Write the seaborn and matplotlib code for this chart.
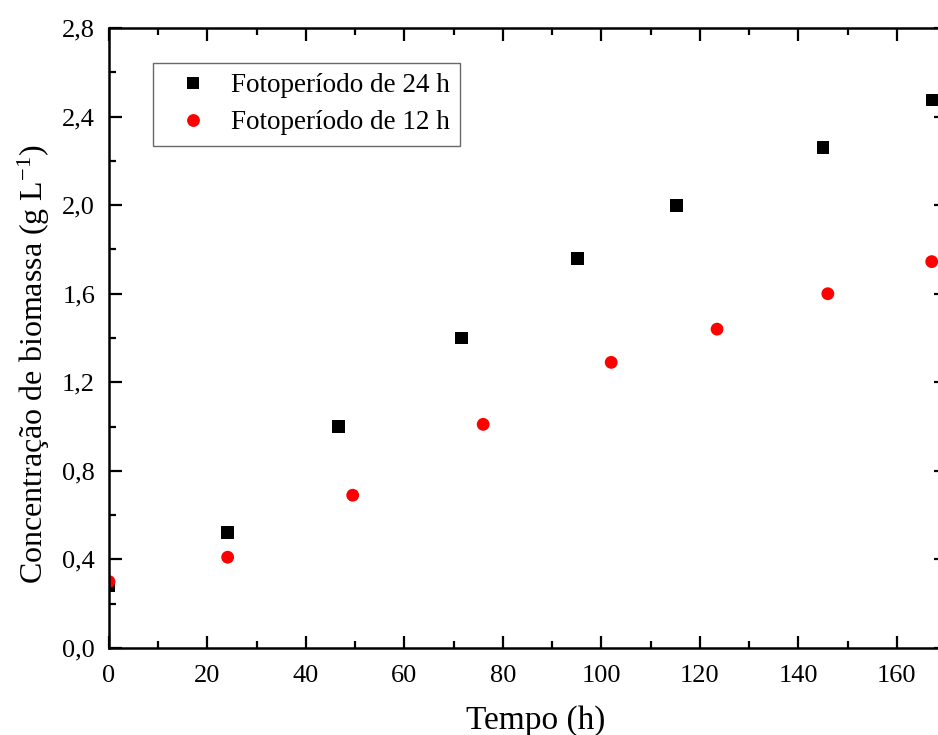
import pandas as pd
import matplotlib.pyplot as plt
import seaborn as sns

# ===== Dados =====
tempo_24h = [0, 24.1, 46.6, 71.6, 95.1, 115.2, 145.0, 167.3]
biomassa_24h = [0.28, 0.52, 1.00, 1.40, 1.76, 2.00, 2.26, 2.475]

tempo_12h = [0, 24.1, 49.5, 76.0, 102.0, 123.5, 146.0, 167.1]
biomassa_12h = [0.30, 0.41, 0.69, 1.01, 1.29, 1.44, 1.60, 1.745]

serie_24 = 'Fotoperíodo de 24 h'
serie_12 = 'Fotoperíodo de 12 h'

df = pd.concat([
    pd.DataFrame({'tempo': tempo_24h, 'biomassa': biomassa_24h, 'serie': serie_24}),
    pd.DataFrame({'tempo': tempo_12h, 'biomassa': biomassa_12h, 'serie': serie_12}),
], ignore_index=True)

# ===== Estilo =====
sns.set_style('ticks')
plt.rcParams['font.family'] = ['Liberation Serif', 'DejaVu Serif']
plt.rcParams['mathtext.fontset'] = 'custom'
plt.rcParams['mathtext.rm'] = 'Liberation Serif'
plt.rcParams['mathtext.it'] = 'Liberation Serif:italic'
for k in ['text.color', 'axes.labelcolor', 'xtick.color', 'ytick.color']:
    plt.rcParams[k] = 'black'

fig = plt.figure(figsize=(9.38, 7.35), dpi=100)
ax = fig.add_axes([109 / 938, 87 / 735, 837 / 938, 620 / 735])

sns.scatterplot(
    data=df, x='tempo', y='biomassa', hue='serie', style='serie',
    hue_order=[serie_24, serie_12], style_order=[serie_24, serie_12],
    palette={serie_24: 'black', serie_12: 'red'},
    markers={serie_24: 's', serie_12: 'o'},
    s=85, linewidth=0, ax=ax,
)

ax.set_xlim(0, 170)
ax.set_ylim(0, 2.8)
ax.set_xticks(range(0, 170, 20))
ax.set_xticks(range(10, 171, 20), minor=True)
yt = [i * 0.4 for i in range(8)]
ax.set_yticks(yt)
ax.set_yticklabels([f'{v:.1f}'.replace('.', ',') for v in yt])
ax.set_yticks([0.2 + i * 0.4 for i in range(7)], minor=True)

ax.tick_params(which='both', direction='in', top=True, right=True, width=1.6,
               labelsize=19)
ax.tick_params(which='major', length=9)
ax.tick_params(axis='y', which='major', pad=10)
ax.tick_params(axis='x', which='major', pad=12)
ax.tick_params(which='minor', length=5)
for sp in ax.spines.values():
    sp.set_linewidth(1.8)
    sp.set_color('black')

ax.set_xlabel('Tempo (h)', fontsize=24)
ax.set_ylabel('Concentração de biomassa (g L$^{-1}$)', fontsize=23)
ax.xaxis.set_label_coords(0.510, -0.092)
ax.yaxis.set_label_coords(-0.068, 0.458)

leg = ax.legend(loc='upper left', bbox_to_anchor=(153 / 938, 1 - 63 / 735),
                bbox_transform=fig.transFigure, borderaxespad=0,
                fontsize=19.5, frameon=True, fancybox=False, markerscale=1.0,
                handletextpad=0.3, borderpad=0.38, labelspacing=0.45,
                handlelength=2.2)
leg.get_frame().set_edgecolor('#444444')
leg.get_frame().set_linewidth(1.0)

fig.savefig('out.png', dpi=100)
